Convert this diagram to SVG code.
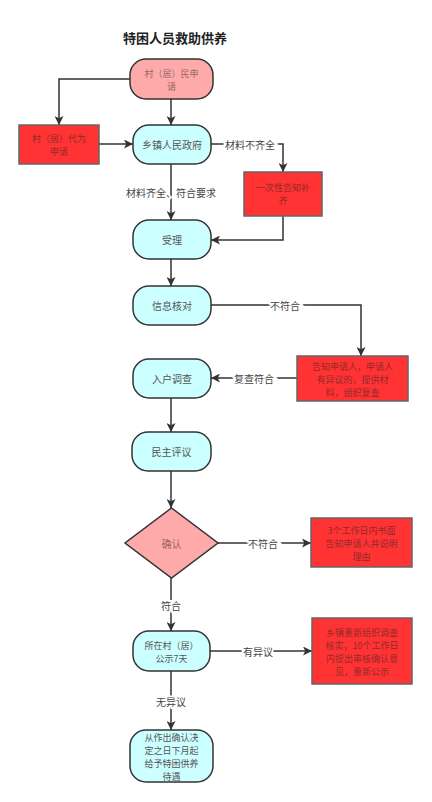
<svg xmlns="http://www.w3.org/2000/svg" width="432" height="802" viewBox="0 0 432 802">
<defs>
<marker id="ah" viewBox="0 0 10 10" refX="10" refY="5" markerWidth="9" markerHeight="9" markerUnits="userSpaceOnUse" orient="auto">
<path d="M0,0 L10,5 L0,10 L2.5,5 Z" fill="#333"/>
</marker>
<style>
text{font-family:"Noto Sans CJK SC","Liberation Sans",sans-serif;font-size:10px;text-anchor:middle;dominant-baseline:central}
.m{font-size:9px}
.title{font-size:13px;font-weight:bold;fill:#222}
.cyan{fill:#ccffff;stroke:#333;stroke-width:1.5}
.pink{fill:#ffaaaa;stroke:#333;stroke-width:1.5}
.red{fill:#ff3333;stroke:#666;stroke-width:1.5}
.tc{fill:#555}
.tp{fill:#996666}
.tr{fill:#952a2a}
.lbl{fill:#444;stroke:#fff;stroke-width:4;paint-order:stroke}
.c{fill:none;stroke:#333;stroke-width:1.5;marker-end:url(#ah)}
</style>
</defs>
<rect width="432" height="802" fill="#fff"/>
<text class="title" x="175" y="37">特困人员救助供养</text>
<g id="connectors">
<path class="c" d="M130,79 H59 V125"/>
<path class="c" d="M171,99 V125"/>
<path class="c" d="M99,144 H133"/>
<path class="c" d="M211,144 H283 V172"/>
<path class="c" d="M171,164 V220"/>
<path class="c" d="M283,216 V240 H211"/>
<path class="c" d="M171,259 V286"/>
<path class="c" d="M211,305 H361 V356"/>
<path class="c" d="M297,378 H211"/>
<path class="c" d="M171,398 V432"/>
<path class="c" d="M171,471 V508"/>
<path class="c" d="M218,543 H311"/>
<path class="c" d="M171,578 V631"/>
<path class="c" d="M210,651 H312"/>
<path class="c" d="M171,671 V730"/>
<text class="lbl" x="250" y="144">材料不齐全</text>
<text class="lbl" x="171" y="192">材料齐全、符合要求</text>
<text class="lbl" x="285" y="305">不符合</text>
<text class="lbl" x="254" y="378">复查符合</text>
<text class="lbl" x="263" y="543">不符合</text>
<text class="lbl" x="171" y="605">符合</text>
<text class="lbl" x="258" y="651">有异议</text>
<text class="lbl" x="171" y="701">无异议</text>
</g>
<g id="n1"><rect class="pink" x="130" y="59" width="83" height="40" rx="16"/><text class="tp m" x="171.5" y="73">村（居）民申</text><text class="tp m" x="171.5" y="86">请</text></g>
<g id="n2"><rect class="red" x="19" y="125" width="80" height="39"/><text class="tr m" x="59" y="138">村（居）代为</text><text class="tr m" x="59" y="151">申请</text></g>
<g id="n3"><rect class="cyan" x="133" y="125" width="78" height="39" rx="16"/><text class="tc" x="172" y="144.5">乡镇人民政府</text></g>
<g id="n4"><rect class="red" x="244" y="172" width="78" height="44"/><text class="tr m" x="283" y="187">一次性告知补</text><text class="tr m" x="283" y="200">齐</text></g>
<g id="n5"><rect class="cyan" x="133" y="220" width="78" height="39" rx="16"/><text class="tc" x="172" y="239.5">受理</text></g>
<g id="n6"><rect class="cyan" x="133" y="286" width="78" height="39" rx="16"/><text class="tc" x="172" y="305.5">信息核对</text></g>
<g id="n7"><rect class="red" x="297" y="356" width="111" height="45"/><text class="tr m" x="352.5" y="366">告知申请人，申请人</text><text class="tr m" x="352.5" y="379">有异议的，提供材</text><text class="tr m" x="352.5" y="392">料，组织复查</text></g>
<g id="n8"><rect class="cyan" x="133" y="359" width="78" height="39" rx="16"/><text class="tc" x="172" y="378.5">入户调查</text></g>
<g id="n9"><rect class="cyan" x="132" y="432" width="79" height="39" rx="16"/><text class="tc" x="171.5" y="451.5">民主评议</text></g>
<g id="n10"><path class="pink" d="M171.5,508 L218,543 L171.5,578 L125,543 Z"/><text class="tp" x="171.5" y="543">确认</text></g>
<g id="n11"><rect class="red" x="311" y="518" width="101" height="49"/><text class="tr m" x="361.5" y="530">3个工作日内书面</text><text class="tr m" x="361.5" y="543">告知申请人并说明</text><text class="tr m" x="361.5" y="556">理由</text></g>
<g id="n12"><rect class="cyan" x="133" y="631" width="77" height="40" rx="16"/><text class="tc m" x="171.5" y="645">所在村（居）</text><text class="tc m" x="171.5" y="658">公示7天</text></g>
<g id="n13"><rect class="red" x="312" y="618" width="100" height="66"/><text class="tr m" x="362" y="632">乡镇重新组织调查</text><text class="tr m" x="362" y="645">核实，10个工作日</text><text class="tr m" x="362" y="658">内提出审核确认意</text><text class="tr m" x="362" y="671">见，重新公示</text></g>
<g id="n14"><rect class="cyan" x="130" y="730" width="83" height="52" rx="16"/><text class="tc m" x="171.5" y="737">从作出确认决</text><text class="tc m" x="171.5" y="750">定之日下月起</text><text class="tc m" x="171.5" y="763">给予特困供养</text><text class="tc m" x="171.5" y="776">待遇</text></g>
</svg>
